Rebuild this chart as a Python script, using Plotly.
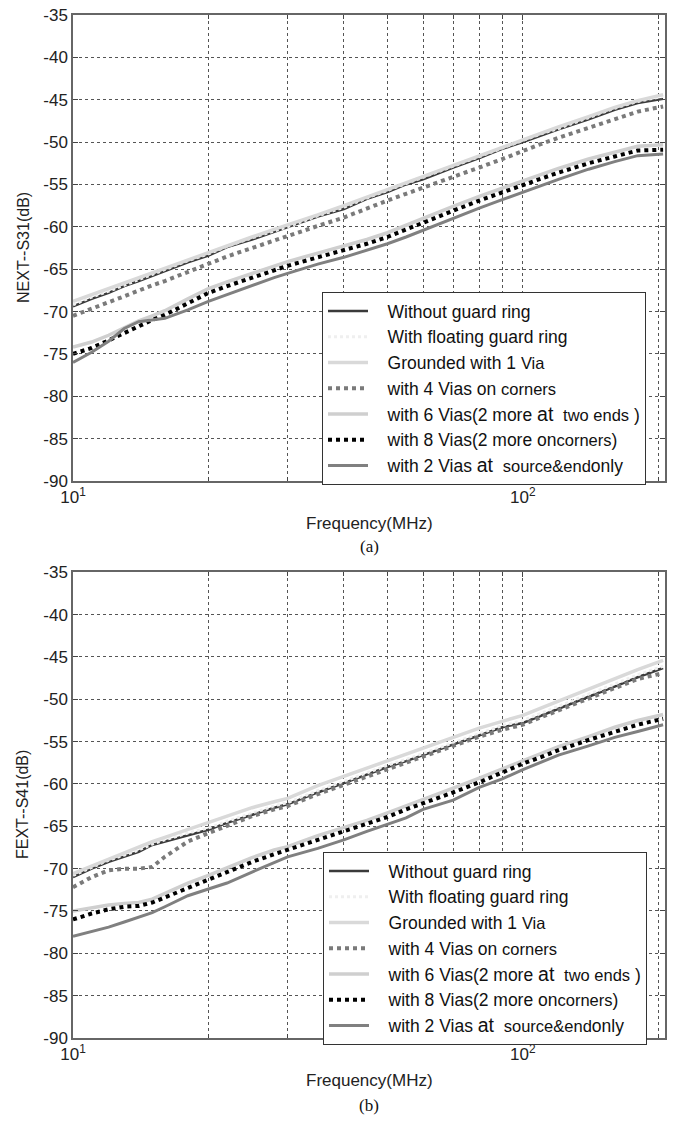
import plotly.graph_objects as go
import math

freq = [10, 11, 12, 13, 14, 15, 16, 18, 20, 22, 25, 28, 30, 35, 40, 45, 50, 55, 60, 70, 80, 90, 100, 110, 120, 140, 160, 180, 205]

# (a) NEXT -- S31 (dB)
next_without = [-69.4, -68.5, -67.8, -67.0, -66.4, -65.8, -65.3, -64.2, -63.4, -62.4, -61.5, -60.6, -60.1, -58.8, -57.9, -56.7, -55.9, -55.0, -54.4, -53.0, -51.9, -50.8, -50.0, -49.2, -48.5, -47.3, -46.2, -45.4, -44.9]
next_floating = [-69.2, -68.3, -67.6, -66.9, -66.2, -65.6, -65.1, -64.0, -63.2, -62.3, -61.3, -60.5, -60.0, -58.7, -57.7, -56.6, -55.7, -54.9, -54.2, -52.9, -51.7, -50.7, -49.8, -49.0, -48.4, -47.1, -46.0, -45.2, -44.6]
next_1via = [-68.8, -68.0, -67.3, -66.6, -66.0, -65.4, -64.9, -63.9, -63.0, -62.2, -61.2, -60.3, -59.8, -58.6, -57.5, -56.5, -55.6, -54.8, -54.1, -52.8, -51.6, -50.6, -49.7, -48.9, -48.2, -47.0, -45.9, -45.1, -44.4]
next_4vias = [-70.5, -69.6, -68.9, -68.2, -67.5, -66.9, -66.4, -65.3, -64.4, -63.5, -62.5, -61.6, -61.1, -59.9, -58.9, -57.8, -56.9, -56.1, -55.4, -54.1, -53.0, -52.0, -51.0, -50.2, -49.5, -48.3, -47.2, -46.4, -45.8]
next_6vias = [-74.2, -73.6, -72.8, -71.9, -71.1, -70.5, -69.9, -68.5, -67.3, -66.5, -65.5, -64.6, -64.1, -63.1, -62.3, -61.5, -60.7, -59.8, -59.0, -57.6, -56.4, -55.4, -54.5, -53.8, -53.1, -52.0, -51.2, -50.5, -50.3]
next_8vias = [-75.0, -74.3, -73.4, -72.5, -71.7, -71.0, -70.4, -69.0, -67.8, -67.0, -66.0, -65.1, -64.6, -63.6, -62.8, -62.0, -61.2, -60.3, -59.5, -58.1, -56.9, -55.9, -55.0, -54.3, -53.6, -52.5, -51.7, -51.0, -50.9]
next_2vias = [-76.0, -74.8, -73.5, -72.0, -71.2, -71.0, -70.8, -69.8, -68.8, -68.0, -66.9, -66.0, -65.5, -64.4, -63.6, -62.8, -62.0, -61.2, -60.4, -59.0, -57.8, -56.8, -55.9, -55.1, -54.4, -53.2, -52.3, -51.6, -51.4]

# (b) FEXT -- S41 (dB)
fext_without = [-71.0, -70.0, -69.2, -68.6, -68.0, -67.2, -66.8, -66.0, -65.4, -64.6, -63.6, -62.8, -62.4, -61.0, -59.9, -58.9, -58.0, -57.3, -56.6, -55.3, -54.2, -53.3, -52.8, -51.9, -51.1, -49.7, -48.5, -47.4, -46.3]
fext_floating = [-70.8, -69.9, -69.0, -68.4, -67.8, -67.1, -66.6, -65.8, -65.2, -64.4, -63.4, -62.6, -62.2, -60.8, -59.7, -58.7, -57.8, -57.1, -56.4, -55.1, -54.0, -53.1, -52.5, -51.6, -50.8, -49.4, -48.2, -47.1, -46.1]
fext_1via = [-70.6, -69.7, -68.9, -68.1, -67.4, -66.8, -66.3, -65.4, -64.6, -63.8, -62.8, -62.1, -61.7, -60.2, -59.1, -58.1, -57.2, -56.5, -55.8, -54.5, -53.4, -52.6, -51.9, -51.0, -50.2, -48.8, -47.6, -46.5, -45.4]
fext_4vias = [-72.2, -71.0, -70.2, -70.0, -70.0, -69.8, -68.6, -66.8, -65.8, -64.9, -63.8, -63.0, -62.6, -61.2, -60.1, -59.1, -58.2, -57.5, -56.8, -55.5, -54.4, -53.6, -53.0, -52.1, -51.3, -49.9, -48.7, -47.6, -46.9]
fext_6vias = [-75.0, -74.6, -74.3, -74.1, -74.0, -73.6, -72.9, -71.7, -70.8, -69.9, -68.7, -67.8, -67.4, -66.1, -65.2, -64.3, -63.4, -62.6, -61.8, -60.5, -59.3, -58.2, -57.2, -56.4, -55.6, -54.4, -53.3, -52.5, -51.8]
fext_8vias = [-76.0, -75.3, -74.8, -74.5, -74.4, -74.0, -73.4, -72.3, -71.3, -70.4, -69.2, -68.3, -67.8, -66.6, -65.6, -64.7, -63.9, -63.0, -62.3, -61.0, -59.8, -58.6, -57.6, -56.8, -56.0, -54.8, -53.8, -53.0, -52.3]
fext_2vias = [-78.0, -77.4, -76.9, -76.3, -75.7, -75.2, -74.5, -73.2, -72.4, -71.7, -70.4, -69.3, -68.6, -67.6, -66.6, -65.6, -64.8, -64.0, -63.0, -61.9, -60.4, -59.4, -58.3, -57.4, -56.6, -55.5, -54.5, -53.8, -53.0]

legend_names = [
    "&nbsp;&nbsp;&nbsp;Without guard ring",
    "&nbsp;&nbsp;&nbsp;With floating guard ring",
    "&nbsp;&nbsp;&nbsp;Grounded with 1 <span style='font-size:16.5px'>Via</span>",
    "&nbsp;&nbsp;&nbsp;with 4 Vias on <span style='font-size:16.5px'>corners</span>",
    "&nbsp;&nbsp;&nbsp;with 6 Vias(2 more <span style='font-size:19.5px'>at</span>  <span style='font-size:16.5px'>two ends</span> )",
    "&nbsp;&nbsp;&nbsp;with 8 Vias(2 more on<span style='font-size:16.5px'>corners</span>)",
    "&nbsp;&nbsp;&nbsp;with 2 Vias <span style='font-size:19.5px'>at</span>  <span style='font-size:16.5px'>source&amp;end</span>only",
]

x_tickvals = [10, 100]
x_ticktext = ["10<sup>1</sup>", "10<sup>2</sup>"]
x_minor = [20, 30, 40, 50, 60, 70, 80, 90, 200]
y_tickvals = [-90, -85, -80, -75, -70, -65, -60, -55, -50, -45, -40, -35]
y_ticktext = ["-90", "-85", "-80", "-75", "-70", "-65", "-60", "-55", "-50", "-45", "-40", "-35"]
y_titles = ["NEXT--S31(dB)", "FEXT--S41(dB)"]
captions = ["(a)", "(b)"]

styles = [
    dict(color="#3a3a3a", width=2.5, dash="solid"),
    dict(color="#efefef", width=3, dash="dot"),
    dict(color="#d9d9d9", width=3.5, dash="solid"),
    dict(color="#7a7a7a", width=4, dash="dot"),
    dict(color="#cfcfcf", width=3.5, dash="solid"),
    dict(color="#000000", width=4, dash="dot"),
    dict(color="#808080", width=3, dash="solid"),
]

panels = [
    [next_without, next_floating, next_1via, next_4vias, next_6vias, next_8vias, next_2vias],
    [fext_without, fext_floating, fext_1via, fext_4vias, fext_6vias, fext_8vias, fext_2vias],
]

# the page body has an 8px margin: figure pixel = screen pixel - 8
OFF = 8
W, H = 660, 1109
def px(v):
    return (v - OFF) / W
def py(v):
    return 1 - (v - OFF) / H

x_dom = [px(73), px(665)]
y_doms = [[py(481), py(15)], [py(1038), py(572.3)]]

fig = go.Figure()
for p, series in enumerate(panels):
    xa = "x" if p == 0 else "x2"
    ya = "y" if p == 0 else "y2"
    lg = "legend" if p == 0 else "legend2"
    for i, vals in enumerate(series):
        fig.add_trace(go.Scatter(
            x=freq, y=vals, mode="lines", name=legend_names[i],
            line=styles[i], xaxis=xa, yaxis=ya, legend=lg, showlegend=True,
        ))

axis_font = dict(family="Liberation Sans, Arial, sans-serif", size=17, color="#222")
grid = dict(showgrid=True, gridcolor="#555", griddash="dot", gridwidth=1)

def xaxis_cfg(anchor, dom):
    return dict(type="log", range=[1, math.log10(207)], domain=dom, anchor=anchor,
                tickmode="array", tickvals=x_tickvals, ticktext=x_ticktext,
                ticks="inside", ticklen=5, tickcolor="#444", automargin=False,
                ticklabeloverflow="allow",
                showline=True, linecolor="#666", linewidth=1.5, mirror="ticks",
                tickfont=axis_font, zeroline=False,
                minor=dict(tickmode="array", tickvals=x_minor, ticks="inside", ticklen=4,
                           tickcolor="#444", showgrid=True, gridcolor="#555", griddash="dot"),
                **grid)

def yaxis_cfg(anchor, dom):
    return dict(range=[-90, -35], domain=dom, anchor=anchor,
                tickmode="array", tickvals=y_tickvals, ticktext=y_ticktext,
                ticks="inside", ticklen=5, tickcolor="#444", automargin=False,
                ticklabeloverflow="allow",
                showline=True, linecolor="#666", linewidth=1.5, mirror="ticks",
                tickfont=axis_font, zeroline=False, **grid)

legend_common = dict(bgcolor="white", bordercolor="#333", borderwidth=1,
                     font=dict(family="Liberation Sans, Arial, sans-serif", size=17.5, color="#111"),
                     xanchor="left", yanchor="top", traceorder="normal",
                     itemwidth=40)

fig.update_layout(
    width=W, height=H, margin=dict(l=0, r=0, t=0, b=0, autoexpand=False),
    paper_bgcolor="white", plot_bgcolor="white",
    xaxis=xaxis_cfg("y", x_dom), yaxis=yaxis_cfg("x", y_doms[0]),
    xaxis2=xaxis_cfg("y2", x_dom), yaxis2=yaxis_cfg("x2", y_doms[1]),
    legend=dict(x=px(322), y=py(292), **legend_common),
    legend2=dict(x=px(323), y=py(852), **legend_common),
)

title_font = dict(family="Liberation Sans, Arial, sans-serif", size=16, color="#222")
centers_y = [248, 805]
freq_y = [523, 1080]
cap_y = [547, 1105]
for p in range(2):
    fig.add_annotation(text=y_titles[p], x=px(23), y=py(centers_y[p]), xref="paper", yref="paper",
                       textangle=-90, showarrow=False, font=title_font, xanchor="center", yanchor="middle")
    fig.add_annotation(text="Frequency(MHz)", x=px(369), y=py(freq_y[p]), xref="paper", yref="paper",
                       showarrow=False, font=dict(family="Liberation Sans, Arial, sans-serif", size=17, color="#222"),
                       xanchor="center", yanchor="middle")
    fig.add_annotation(text=captions[p], x=px(369), y=py(cap_y[p]), xref="paper", yref="paper",
                       showarrow=False, font=dict(family="Liberation Serif, Times New Roman, serif", size=17, color="#111"),
                       xanchor="center", yanchor="middle")

fig.write_html("out.html")
